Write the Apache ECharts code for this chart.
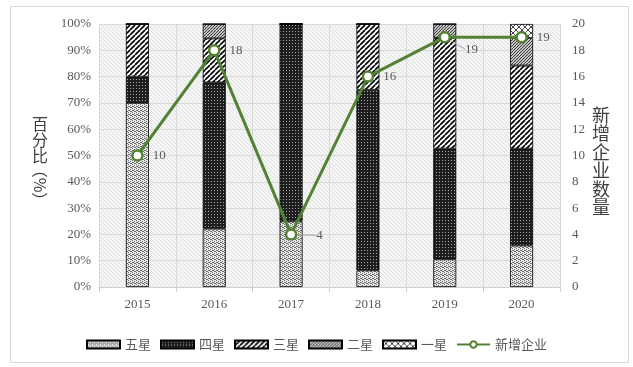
<!DOCTYPE html>
<html><head><meta charset="utf-8">
<script src="https://cdn.jsdelivr.net/npm/echarts@6/dist/echarts.min.js"></script>
<style>html,body{margin:0;padding:0;background:#fff}#c{width:633px;height:367px}</style>
</head><body><div id="c"></div>
<script>
const years = ['2015','2016','2017','2018','2019','2020'];
const fiveStar  = [70, 22.2, 25, 6.3, 10.5, 15.8];
const fourStar  = [10, 55.6, 75, 68.7, 42.1, 36.8];
const threeStar = [20, 16.7, 0, 25, 42.1, 31.6];
const twoStar   = [0, 5.5, 0, 0, 5.3, 10.5];
const oneStar   = [0, 0, 0, 0, 0, 5.3];
const newFirms  = [10, 18, 4, 16, 19, 19];
const seriesNames = ['五星','四星','三星','二星','一星'];
const lineName = '新增企业';

function pat(w, h, draw) {
  const c = document.createElement('canvas'); c.width = w; c.height = h;
  const g = c.getContext('2d'); draw(g, w, h);
  return { image: c, repeat: 'repeat' };
}
const pFive = pat(4, 4, (g) => {
  g.fillStyle = '#e8e8e8'; g.fillRect(0,0,4,4);
  g.fillStyle = '#6e6e6e';
  [[0,0],[2,1],[1,2],[3,3],[2,3],[0,2]].forEach(p => g.fillRect(p[0],p[1],1,1));
});
const pFour = pat(3, 3, (g) => {
  g.fillStyle = '#1e1e1e'; g.fillRect(0,0,3,3);
  g.fillStyle = '#a8a8a8'; g.fillRect(1,1,1,1);
});
const pThree = pat(5, 5, (g) => {
  g.fillStyle = '#fff'; g.fillRect(0,0,5,5);
  g.strokeStyle = '#000'; g.lineWidth = 1.7;
  for (let k = -1; k <= 2; k++) { g.beginPath(); g.moveTo(k*5, 5); g.lineTo(k*5 + 5, 0); g.stroke(); }
});
const pTwo = pat(3, 3, (g) => {
  g.fillStyle = '#f0f0f0'; g.fillRect(0,0,3,3);
  g.strokeStyle = '#333'; g.lineWidth = 1.1;
  for (let k = -1; k <= 2; k++) { g.beginPath(); g.moveTo(k*3, 3); g.lineTo(k*3 + 3, 0); g.stroke(); }
});
const pOne = pat(6, 6, (g) => {
  g.fillStyle = '#fff'; g.fillRect(0,0,6,6);
  g.strokeStyle = '#444'; g.lineWidth = 1;
  for (let k = -1; k <= 2; k++) {
    g.beginPath(); g.moveTo(k*6, 6); g.lineTo(k*6 + 6, 0); g.stroke();
    g.beginPath(); g.moveTo(k*6, 0); g.lineTo(k*6 + 6, 6); g.stroke();
  }
});
const pBg = pat(4, 4, (g) => {
  g.fillStyle = '#f5f5f5'; g.fillRect(0,0,4,4);
  g.strokeStyle = '#e2e2e2'; g.lineWidth = 1;
  for (let k = -1; k <= 2; k++) { g.beginPath(); g.moveTo(k*4, 0); g.lineTo(k*4 + 4, 4); g.stroke(); }
});

const fills = [pFive, pFour, pThree, pTwo, pOne];
const dataSets = [fiveStar, fourStar, threeStar, twoStar, oneStar];
const gray = '#595959';
const serif = '"Liberation Serif", "Times New Roman", serif';
const cjk = '"Noto Sans CJK SC", sans-serif';

const chart = echarts.init(document.getElementById('c'), null, { renderer: 'canvas' });
const barSeries = seriesNames.map((n, i) => ({
  name: n, type: 'bar', stack: 'pct', barWidth: 23,
  data: dataSets[i],
  itemStyle: { color: fills[i], borderColor: '#000', borderWidth: 0.8 },
  emphasis: { disabled: true }
}));
const lineData = newFirms.map((v, i) => {
  if (i === 2 || i === 4) return { value: v, labelLine: { show: true, lineStyle: { color: '#a6a6a6', width: 1 } } };
  return { value: v };
});
chart.setOption({
  animation: false,
  backgroundColor: '#fff',
  grid: { left: 99, right: 73, top: 24, bottom: 80, show: true, backgroundColor: pBg, borderWidth: 0 },
  legend: {
    top: 333, left: 'center', itemWidth: 33, itemHeight: 8, itemGap: 9,
    textStyle: { color: gray, fontSize: 13, fontFamily: cjk },
    data: seriesNames.map(n => ({ name: n, icon: 'rect' })).concat([{ name: lineName }])
  },
  xAxis: {
    type: 'category', data: years,
    axisLine: { lineStyle: { color: '#d0d0d0' } },
    axisTick: { show: true, length: 5, lineStyle: { color: '#d0d0d0' } },
    splitLine: { show: true, lineStyle: { color: '#d9d9d9' } },
    axisLabel: { color: gray, fontSize: 13, fontFamily: serif, margin: 11 }
  },
  yAxis: [{
    type: 'value', min: 0, max: 100, interval: 10,
    axisLabel: { formatter: '{value}%', color: gray, fontSize: 13, fontFamily: serif, margin: 8 },
    splitLine: { lineStyle: { color: '#d9d9d9' } },
    axisLine: { show: false }, axisTick: { show: false }
  }, {
    type: 'value', min: 0, max: 20, interval: 2,
    axisLabel: { color: gray, fontSize: 13, fontFamily: serif, margin: 12 },
    splitLine: { show: false }, axisLine: { show: false }, axisTick: { show: false }
  }],
  series: barSeries.concat([{
    name: lineName, type: 'line', yAxisIndex: 1, data: lineData, z: 10,
    symbol: 'circle', symbolSize: 10,
    lineStyle: { color: '#548235', width: 3 },
    itemStyle: { color: '#fff', borderColor: '#548235', borderWidth: 2.5 },
    label: { show: true, position: 'right', distance: 9, color: gray, fontSize: 13, fontFamily: serif },
    labelLayout: function (p) {
      if (p.dataIndex === 2) return { dx: 10, dy: 1 };
      if (p.dataIndex === 4) return { dx: 5, dy: 12 };
      return {};
    },
    emphasis: { disabled: true }
  }]),
  graphic: [
    { type: 'rect', shape: { x: 10.5, y: 6.5, width: 618, height: 356 }, style: { fill: 'none', stroke: '#d9d9d9', lineWidth: 1 }, z: -1, silent: true },
    { type: 'text', x: 40, y: 116, style: { text: '百\n分\n比', fill: '#404040', font: '16px ' + cjk, align: 'center', lineHeight: 16 } },
    { type: 'text', x: 40, y: 185, rotation: -Math.PI / 2, style: { text: '（%）', fill: '#404040', font: '16px ' + cjk, align: 'center', verticalAlign: 'middle' } },
    { type: 'text', x: 601, y: 106, style: { text: '新\n增\n企\n业\n数\n量', fill: '#404040', font: '18px ' + cjk, align: 'center', lineHeight: 18.4 } }
  ]
});
</script></body></html>
